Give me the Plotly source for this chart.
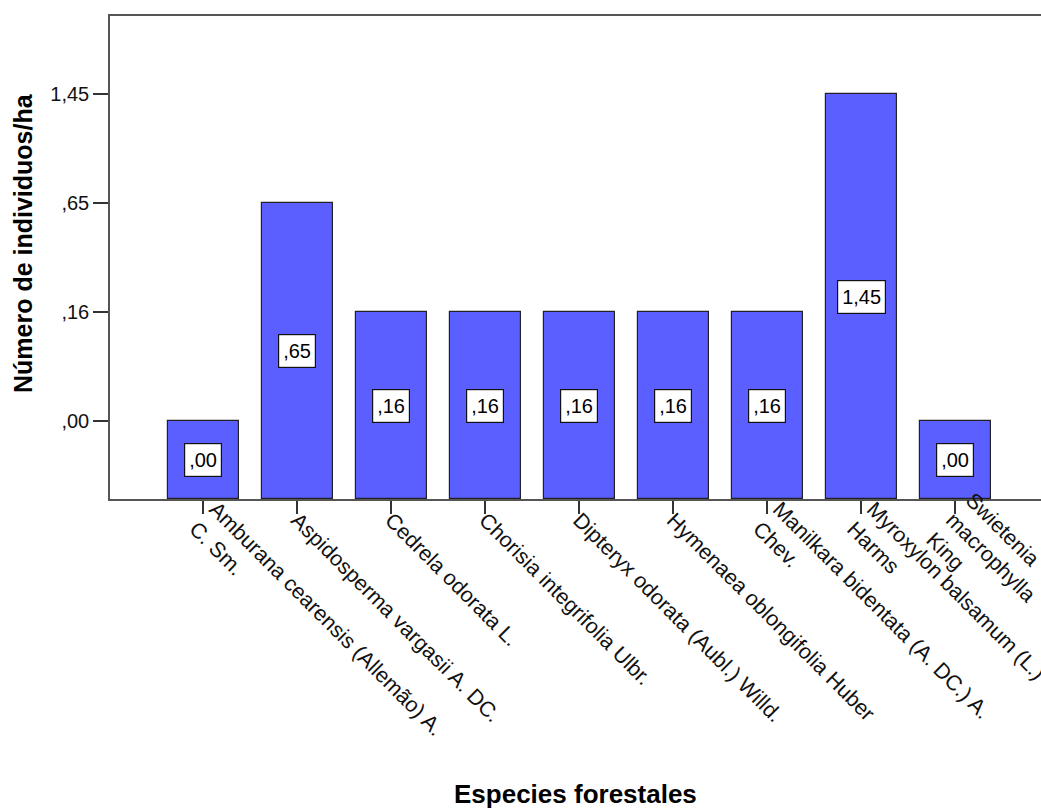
import plotly.graph_objects as go

# Species (x categories) and density per hectare
species = [
    "Amburana cearensis (Allemão) A.<br>C. Sm.",
    "Aspidosperma vargasii A. DC.",
    "Cedrela odorata L.",
    "Chorisia integrifolia Ulbr.",
    "Dipteryx odorata (Aubl.) Willd.",
    "Hymenaea oblongifolia Huber",
    "Manilkara bidentata (A. DC.) A.<br>Chev.",
    "Myroxylon balsamum (L.)<br>Harms",
    "Swietenia<br>macrophylla<br>King",
]
individuos_ha = [0.00, 0.65, 0.16, 0.16, 0.16, 0.16, 0.16, 1.45, 0.00]

# The value axis is categorical: each distinct value gets its own level
y_levels = [0.00, 0.16, 0.65, 1.45]
y_tick_labels = [",00", ",16", ",65", "1,45"]

FONT = "Liberation Sans, Arial, sans-serif"
BAR_COLOR = "#5b5fff"
LINE_COLOR = "#555555"
TICK_COLOR = "#333333"
Y_MIN, Y_MAX = -0.716, 3.716
X_MIN, X_MAX = -0.995, 8.915
XTICK_FONT = dict(family=FONT, size=21.5, color="#111111")


def fmt(v):
    s = f"{v:.2f}".replace(".", ",")
    return s[1:] if s.startswith("0") else s


x_idx = list(range(len(species)))
level_idx = [y_levels.index(v) for v in individuos_ha]

fig = go.Figure()
fig.add_trace(go.Bar(
    x=x_idx,
    y=[li - Y_MIN for li in level_idx],
    base=Y_MIN,
    width=0.756,
    marker=dict(color=BAR_COLOR, line=dict(color="#222222", width=1.2)),
    hoverinfo="skip",
    showlegend=False,
))

# Value boxes in the middle of each bar
for xi, li, v in zip(x_idx, level_idx, individuos_ha):
    fig.add_annotation(
        x=xi, y=(Y_MIN + li) / 2, xref="x", yref="y",
        text=fmt(v), showarrow=False, height=24,
        font=dict(family=FONT, size=20, color="black"),
        bgcolor="white", bordercolor="#111111", borderwidth=1.2, borderpad=4,
    )

W, H = 1041, 812
L, R, T, B = 110, 0, 16, 313
pw, ph = W - L - R, H - T - B


def px_to_paper(px, py):
    return (px - L) / pw, (H - B - py) / ph


# Axis titles
tx, ty = px_to_paper(23, 243)
fig.add_annotation(
    x=tx, y=ty, xref="paper", yref="paper", showarrow=False,
    text="<b>Número de individuos/ha</b>", textangle=-90,
    xanchor="center", yanchor="middle",
    font=dict(family=FONT, size=25, color="black"),
)
tx, ty = px_to_paper(575, 811)
fig.add_annotation(
    x=tx, y=ty, xref="paper", yref="paper", showarrow=False,
    text="<b>Especies forestales</b>",
    xanchor="center", yanchor="bottom",
    font=dict(family=FONT, size=26, color="black"),
)

fig.update_layout(
    width=W, height=H,
    margin=dict(l=L, r=R, t=T, b=B, pad=0, autoexpand=False),
    paper_bgcolor="white", plot_bgcolor="white",
    font=dict(family=FONT, color="black"),
    bargap=0,
)
fig.update_xaxes(
    range=[X_MIN, X_MAX], automargin=False,
    tickmode="array", tickvals=x_idx, showticklabels=False,
    ticks="outside", ticklen=13, tickcolor=TICK_COLOR, tickwidth=1.5,
    showline=True, linecolor=LINE_COLOR, linewidth=1.5, mirror=True,
    showgrid=False, zeroline=False, fixedrange=True,
)
fig.update_yaxes(
    range=[Y_MIN, Y_MAX], automargin=False,
    tickmode="array", tickvals=list(range(len(y_levels))), ticktext=y_tick_labels,
    ticks="outside", ticklen=15, tickcolor=TICK_COLOR, tickwidth=1.5,
    tickfont=dict(family=FONT, size=20, color="#111111"),
    showline=True, linecolor=LINE_COLOR, linewidth=1.5,
    showgrid=False, zeroline=False, fixedrange=True,
)

# Category labels: wrapped labels are centred on their tick, so each
# line-count group gets its own overlay axis with its own offset.
label_offsets = {1: (-14, 0), 2: (-25, 12), 3: (-34, 17)}
for n, (axis_name, axis_ref) in enumerate(
        [("xaxis2", "x2"), ("xaxis3", "x3"), ("xaxis4", "x4")], start=1):
    vals = [i for i, s in zip(x_idx, species) if s.count("<br>") + 1 == n]
    texts = [species[i] for i in vals]
    standoff, shift = label_offsets[n]
    fig.update_layout(**{axis_name: dict(
        overlaying="x", anchor="y", side="bottom",
        range=[X_MIN, X_MAX], automargin=False,
        tickmode="array", tickvals=vals, ticktext=texts,
        tickangle=45, tickfont=XTICK_FONT, ticklabeloverflow="allow",
        ticks="outside", ticklen=13, tickcolor="rgba(0,0,0,0)",
        ticklabelstandoff=standoff, ticklabelshift=shift,
        showline=False, showgrid=False, zeroline=False, fixedrange=True,
    )})
    fig.add_trace(go.Scatter(
        x=[None], y=[None], xaxis=axis_ref, yaxis="y",
        mode="markers", showlegend=False, hoverinfo="skip",
    ))

fig.write_html("out.html")
